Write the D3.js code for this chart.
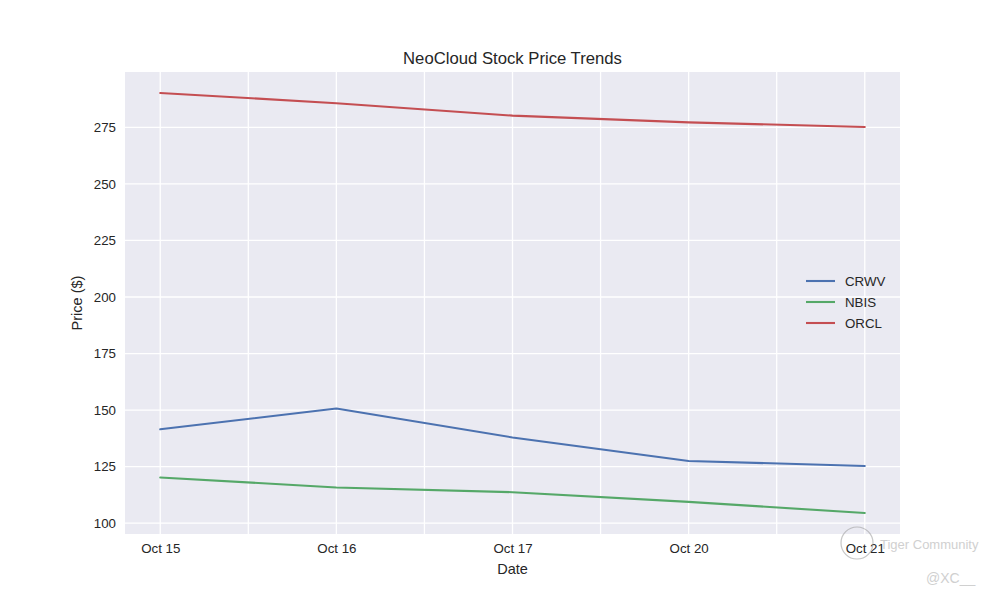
<!DOCTYPE html>
<html>
<head>
<meta charset="utf-8">
<script src="https://cdn.jsdelivr.net/npm/d3@7"></script>
<style>
  html, body { margin: 0; padding: 0; background: #ffffff; }
  svg { display: block; font-family: "Liberation Sans", Arial, sans-serif; }
</style>
</head>
<body>
<svg id="chart" width="1000" height="600"></svg>
<script>
const dates = ["Oct 15", "Oct 16", "Oct 17", "Oct 20", "Oct 21"];
const crwv = [141.5, 150.7, 137.9, 127.5, 125.3];
const nbis = [120.2, 115.8, 113.7, 109.4, 104.5];
const orcl = [290.2, 285.7, 280.2, 277.2, 275.2];
const seriesNames = ["CRWV", "NBIS", "ORCL"];
const seriesColors = ["#4C72B0", "#55A868", "#C44E52"];
const yTicks = [100, 125, 150, 175, 200, 225, 250, 275];
const title = "NeoCloud Stock Price Trends";
const xLabel = "Date";
const yLabel = "Price ($)";

const series = [crwv, nbis, orcl];
const svg = d3.select("#chart");
const m = { left: 125, right: 900, top: 72, bottom: 534 };
const textColor = "#262626";

const n = dates.length;
const x = d3.scaleLinear().domain([-0.05 * (n - 1), (n - 1) * 1.05]).range([m.left, m.right]);
const all = series.flat();
const lo = d3.min(all), hi = d3.max(all), pad = (hi - lo) * 0.05;
const y = d3.scaleLinear().domain([lo - pad, hi + pad]).range([m.bottom, m.top]);

// background
svg.append("rect").attr("x", m.left).attr("y", m.top)
  .attr("width", m.right - m.left).attr("height", m.bottom - m.top)
  .attr("fill", "#EAEAF2");

// vertical grid (every half step)
const vGrid = d3.range(0, n - 0.99, 0.5);
svg.append("g").selectAll("line").data(vGrid).join("line")
  .attr("x1", d => x(d)).attr("x2", d => x(d))
  .attr("y1", m.top).attr("y2", m.bottom)
  .attr("stroke", "#ffffff").attr("stroke-width", 1.3);

// horizontal grid
svg.append("g").selectAll("line").data(yTicks).join("line")
  .attr("x1", m.left).attr("x2", m.right)
  .attr("y1", d => y(d)).attr("y2", d => y(d))
  .attr("stroke", "#ffffff").attr("stroke-width", 1.3);

// axes
const xAxis = d3.axisBottom(x).tickValues(d3.range(n)).tickFormat(i => dates[i]).tickSize(0).tickPadding(10);
const gx = svg.append("g").attr("transform", `translate(0,${m.bottom})`).call(xAxis);
gx.select(".domain").remove();
gx.selectAll("text").attr("fill", textColor).style("font-size", "13.3px").style("font-family", "Liberation Sans, Arial, sans-serif");

const yAxis = d3.axisLeft(y).tickValues(yTicks).tickSize(0).tickPadding(9);
const gy = svg.append("g").attr("transform", `translate(${m.left},0)`).call(yAxis);
gy.select(".domain").remove();
gy.selectAll("text").attr("fill", textColor).style("font-size", "13.3px").style("font-family", "Liberation Sans, Arial, sans-serif");

// lines
const line = d3.line().x((d, i) => x(i)).y(d => y(d));
series.forEach((s, k) => {
  svg.append("path").datum(s).attr("d", line)
    .attr("fill", "none").attr("stroke", seriesColors[k])
    .attr("stroke-width", 2.1).attr("stroke-linejoin", "round").attr("stroke-linecap", "round");
});

// title & labels
svg.append("text").attr("x", (m.left + m.right) / 2).attr("y", 64)
  .attr("text-anchor", "middle").attr("fill", textColor).style("font-size", "16.7px").text(title);
svg.append("text").attr("x", (m.left + m.right) / 2).attr("y", 574)
  .attr("text-anchor", "middle").attr("fill", textColor).style("font-size", "14.5px").text(xLabel);
svg.append("text").attr("transform", `translate(82,${(m.top + m.bottom) / 2}) rotate(-90)`)
  .attr("text-anchor", "middle").attr("fill", textColor).style("font-size", "14.5px").text(yLabel);

// legend
const lg = svg.append("g").attr("transform", "translate(806,281)");
seriesNames.forEach((name, k) => {
  const row = lg.append("g").attr("transform", `translate(0,${k * 21})`);
  row.append("line").attr("x1", 0).attr("x2", 29).attr("y1", 0).attr("y2", 0)
    .attr("stroke", seriesColors[k]).attr("stroke-width", 2.1);
  row.append("text").attr("x", 39).attr("y", 0).attr("dy", "0.35em")
    .attr("fill", textColor).style("font-size", "13.3px").text(name);
});

// watermark
const wm = svg.append("g").attr("opacity", 0.55);
wm.append("circle").attr("cx", 857).attr("cy", 543).attr("r", 16)
  .attr("fill", "none").attr("stroke", "#999").attr("stroke-width", 1.2);
wm.append("text").attr("x", 880).attr("y", 549).attr("fill", "#aaa")
  .style("font-size", "13px").text("Tiger Community");
wm.append("text").attr("x", 926).attr("y", 583).attr("fill", "#aaa")
  .style("font-size", "14px").text("@XC__");
</script>
</body>
</html>
